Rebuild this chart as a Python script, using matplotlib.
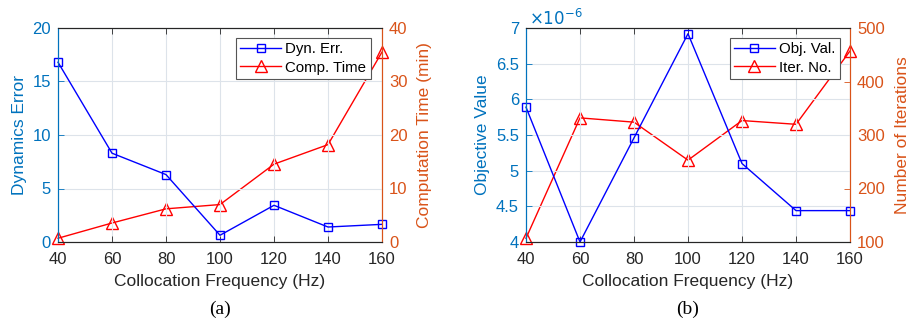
import numpy as np
import matplotlib.pyplot as plt
from matplotlib.ticker import FuncFormatter

plt.rc('font', family=['Liberation Sans', 'DejaVu Sans'])

freq = [40, 60, 80, 100, 120, 140, 160]

# (a)
dyn_err = [16.8, 8.3, 6.3, 0.63, 3.43, 1.4, 1.65]
comp_time = [0.7, 3.55, 6.2, 7.0, 14.55, 18.2, 35.5]

# (b)
obj_val = [5.89e-6, 4.0e-6, 5.46e-6, 6.92e-6, 5.1e-6, 4.44e-6, 4.44e-6]
iter_no = [107, 332, 324, 253, 327, 320, 457]

c_left = '#0072BD'
c_right = '#D95319'
fs = 12
fig = plt.figure(figsize=(9.17, 3.22), dpi=100)


def make_panel(pos, y1, y2, ylim1, yt1, ylim2, yt2, lab1, lab2, leg, caption, leg_x, sci=False):
  ax = fig.add_axes(pos)
  ax2 = ax.twinx()
  ax.set_zorder(ax2.get_zorder() + 1)
  ax.patch.set_visible(False)
  l1, = ax.plot(freq, y1, '-s', color='blue', lw=1.0, ms=6, mfc='none', mew=1.0, clip_on=False)
  l2, = ax2.plot(freq, y2, '-^', color='red', lw=1.0, ms=8, mfc='none', mew=1.0, clip_on=False)
  ax.set_xlim(40, 160)
  ax.set_xticks(freq)
  ax.set_ylim(*ylim1)
  ax.set_yticks(yt1)
  ax2.set_ylim(*ylim2)
  ax2.set_yticks(yt2)
  ax.grid(True, color='#dde3ea', lw=0.8)
  ax.tick_params(axis='both', direction='in', labelsize=fs, length=4, width=0.6)
  ax.tick_params(axis='x', top=True, colors='#262626', pad=7)
  ax.tick_params(axis='y', colors=c_left, pad=5)
  ax2.tick_params(axis='y', direction='in', labelsize=fs, colors=c_right, length=4, width=0.6, pad=5)
  for s in ['top', 'bottom']:
    ax.spines[s].set_color('#262626')
    ax2.spines[s].set_color('#262626')
  ax.spines['left'].set_color(c_left)
  ax2.spines['left'].set_color(c_left)
  ax2.spines['right'].set_color(c_right)
  ax.spines['right'].set_color(c_right)
  ax.set_xlabel('Collocation Frequency (Hz)', fontsize=fs + 0.5, color='#262626', labelpad=5)
  ax.set_ylabel(lab1, fontsize=fs + 0.5, color=c_left, labelpad=4)
  ax2.set_ylabel(lab2, fontsize=fs + 0.5, color=c_right, labelpad=7)
  if sci:
    ax.yaxis.set_major_formatter(FuncFormatter(lambda v, p: f'{v * 1e6:g}'))
    ax.text(0.01, 1.0, r'$\times 10^{-6}$', transform=ax.transAxes, color=c_left,
            fontsize=fs, ha='left', va='bottom')
  lg = ax.legend([l1, l2], leg, loc='upper right', bbox_to_anchor=(leg_x, 0.955),
                 fontsize=10.8, fancybox=False, edgecolor='#555555',
                 framealpha=1, handlelength=2.7, borderpad=0.3, labelspacing=0.3,
                 handletextpad=0.3, borderaxespad=0.0)
  lg.get_frame().set_linewidth(0.8)
  fig.text(pos[0] + pos[2] / 2, 0.012, caption, ha='center', va='bottom',
           fontsize=14, family='Liberation Serif')
  return ax, ax2


make_panel([58 / 917, 1 - 242 / 322, 324 / 917, 214 / 322], dyn_err, comp_time,
           (0, 20), [0, 5, 10, 15, 20], (0, 40), [0, 10, 20, 30, 40],
           'Dynamics Error', 'Computation Time (min)', ['Dyn. Err.', 'Comp. Time'], '(a)', 0.966)

make_panel([526 / 917, 1 - 242 / 322, 324 / 917, 214 / 322], obj_val, iter_no,
           (4e-6, 7e-6), [4e-6, 4.5e-6, 5e-6, 5.5e-6, 6e-6, 6.5e-6, 7e-6],
           (100, 500), [100, 200, 300, 400, 500],
           'Objective Value', 'Number of Iterations', ['Obj. Val.', 'Iter. No.'], '(b)', 0.969, sci=True)

fig.savefig('out.png', dpi=100)
